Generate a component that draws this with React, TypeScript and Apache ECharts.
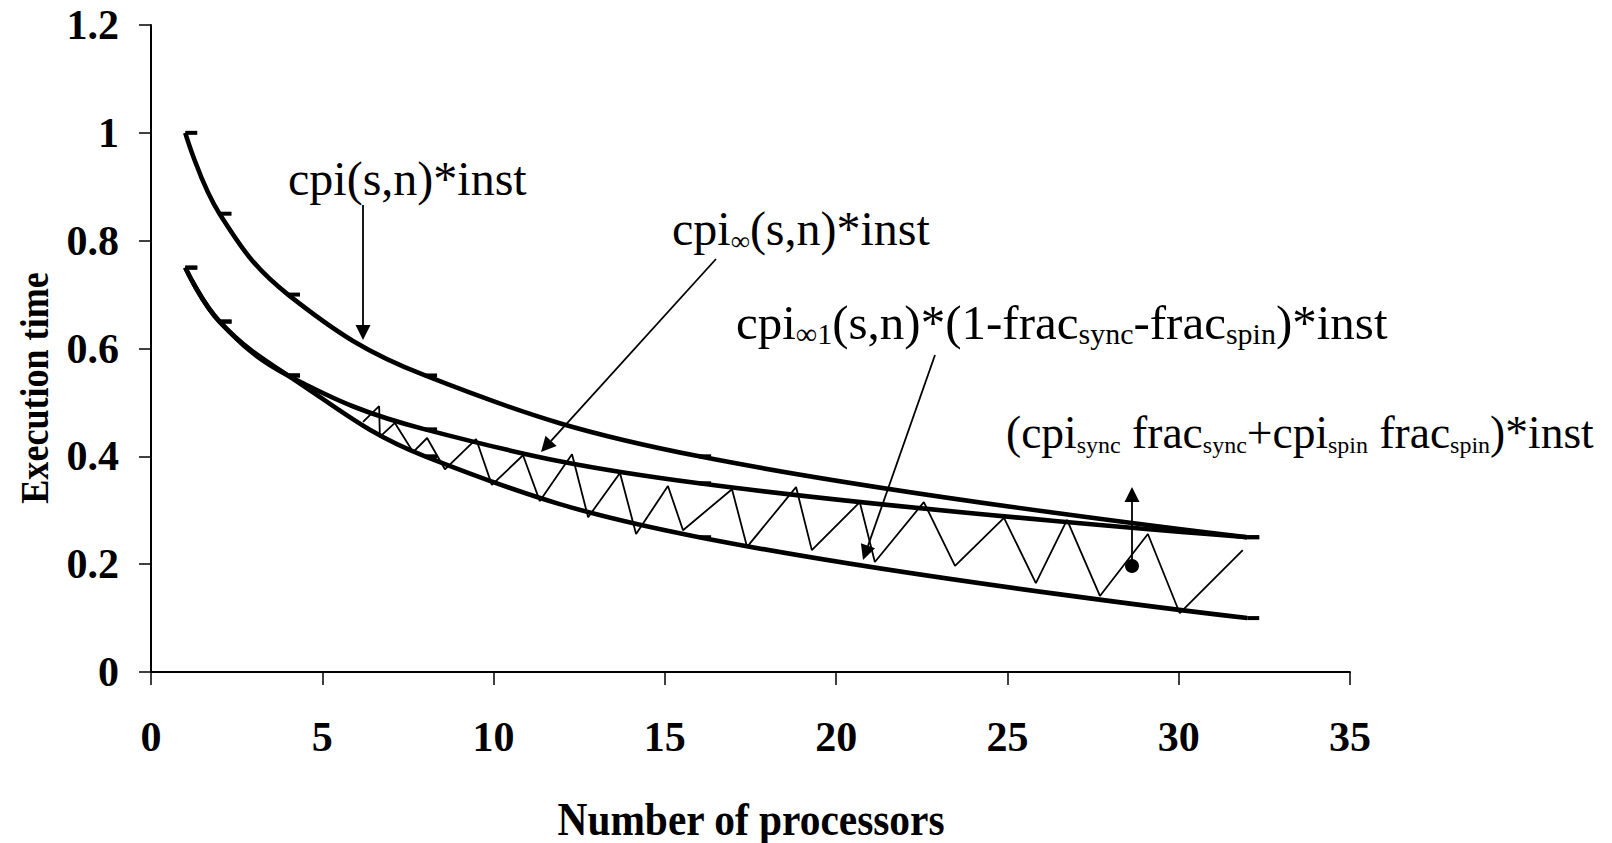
import React, { useEffect, useRef } from 'react';
import * as echarts from 'echarts';

// ---------- data ----------
const processors = [1, 2, 4, 8, 16, 32];
const cpiInst = [1.0, 0.85, 0.7, 0.55, 0.4, 0.25];
const cpiInfInst = [0.75, 0.65, 0.55, 0.45, 0.35, 0.25];
const cpiInf1Inst = [0.75, 0.65, 0.55, 0.4, 0.25, 0.1];

// sync + spin zig-zag band
const syncSpinX = [6.19, 6.66, 6.68, 7.12, 7.65, 8.06, 8.58, 9.49, 9.95, 10.86, 11.35, 12.29, 12.76, 13.69, 14.16, 15.09, 15.53, 16.96, 17.4, 18.83, 19.29, 20.69, 21.13, 22.56, 23.47, 24.9, 25.83, 26.74, 27.7, 29.1, 30.03, 31.87];
const syncSpinY = [0.464, 0.493, 0.436, 0.462, 0.408, 0.434, 0.376, 0.432, 0.347, 0.402, 0.317, 0.404, 0.287, 0.369, 0.256, 0.345, 0.263, 0.339, 0.232, 0.343, 0.226, 0.315, 0.204, 0.315, 0.197, 0.286, 0.165, 0.282, 0.141, 0.256, 0.109, 0.226];

const xMin = 0;
const xMax = 35;
const xStep = 5;
const yMin = 0;
const yMax = 1.2;
const yStep = 0.2;

const xTitle = 'Number of processors';
const yTitle = 'Execution time';

const SERIF = '"Liberation Serif", "Times New Roman", serif';

function arrow(x1: number, y1: number, x2: number, y2: number) {
  const len = Math.hypot(x2 - x1, y2 - y1);
  const ux = (x2 - x1) / len;
  const uy = (y2 - y1) / len;
  const headL = 15;
  const headW = 7.5;
  const bx = x2 - ux * headL;
  const by = y2 - uy * headL;
  const px = -uy;
  const py = ux;
  return [
    {
      type: 'line',
      shape: { x1, y1, x2: bx, y2: by },
      style: { stroke: '#000', lineWidth: 1.8 },
      z: 100,
    },
    {
      type: 'polygon',
      shape: {
        points: [
          [x2, y2],
          [bx + px * headW, by + py * headW],
          [bx - px * headW, by - py * headW],
        ],
      },
      style: { fill: '#000' },
      z: 100,
    },
  ];
}

function makeRich(main: number, sub: number) {
  return {
    m: { fontSize: main, lineHeight: main + 4, fontFamily: SERIF, fill: '#000' },
    s: {
      fontSize: sub,
      lineHeight: Math.round(sub * 0.78),
      verticalAlign: 'bottom',
      fontFamily: SERIF,
      fill: '#000',
    },
  };
}

function label(x: number, y: number, text: string, main: number, sub: number) {
  return {
    type: 'text',
    x,
    y,
    z: 100,
    style: {
      text,
      rich: makeRich(main, sub),
      fontFamily: SERIF,
      fontSize: main,
      fill: '#000',
      align: 'left',
      verticalAlign: 'middle',
    },
  };
}

export default function App() {
  const ref = useRef<HTMLDivElement>(null);

  useEffect(() => {
    document.body.style.margin = '0';
    const chart = echarts.init(ref.current!, null, { renderer: 'svg' });

    const curve = (name: string, vals: number[]) => ({
      name,
      type: 'line',
      data: processors.map((x, i) => [x, vals[i]]),
      smooth: 0.4,
      symbol: 'rect',
      symbolSize: [12, 4],
      symbolOffset: [6, 0],
      itemStyle: { color: '#000' },
      lineStyle: { color: '#000', width: 4.6 },
      z: 5,
    });

    const option = {
      animation: false,
      backgroundColor: '#fff',
      grid: { left: 151, right: 262, top: 25, bottom: 171, containLabel: false },
      xAxis: {
        type: 'value',
        min: xMin,
        max: xMax,
        interval: xStep,
        axisLine: { onZero: false, lineStyle: { color: '#000', width: 2 } },
        axisTick: { show: true, inside: false, length: 13, lineStyle: { color: '#000', width: 1.5 } },
        axisLabel: { fontFamily: SERIF, fontWeight: 'bold', fontSize: 42, color: '#000', margin: 44 },
        splitLine: { show: false },
      },
      yAxis: {
        type: 'value',
        min: yMin,
        max: yMax,
        interval: yStep,
        axisLine: { show: true, lineStyle: { color: '#000', width: 2 } },
        axisTick: { show: true, inside: false, length: 12, lineStyle: { color: '#000', width: 1.5 } },
        axisLabel: {
          fontFamily: SERIF,
          fontWeight: 'bold',
          fontSize: 42,
          color: '#000',
          margin: 32,
          formatter: (v: number) => String(Math.round(v * 10) / 10),
        },
        splitLine: { show: false },
      },
      series: [
        {
          name: 'sync+spin',
          type: 'line',
          data: syncSpinX.map((x, i) => [x, syncSpinY[i]]),
          showSymbol: false,
          symbol: 'none',
          lineStyle: { color: '#000', width: 1.8 },
          z: 3,
        },
        curve('cpi(s,n)*inst', cpiInst),
        curve('cpi_inf(s,n)*inst', cpiInfInst),
        curve('cpi_inf1(s,n)*(1-frac_sync-frac_spin)*inst', cpiInf1Inst),
      ],
      graphic: [
        {
          type: 'text',
          x: 34,
          y: 388,
          rotation: Math.PI / 2,
          scaleX: 0.88,
          style: {
            text: yTitle,
            fontFamily: SERIF,
            fontWeight: 'bold',
            fontSize: 41,
            fill: '#000',
            align: 'center',
            verticalAlign: 'middle',
          },
        },
        {
          type: 'text',
          x: 751,
          y: 819,
          scaleX: 0.9,
          style: {
            text: xTitle,
            fontFamily: SERIF,
            fontWeight: 'bold',
            fontSize: 46,
            fill: '#000',
            align: 'center',
            verticalAlign: 'middle',
          },
        },
        label(288, 178, '{m|cpi(s,n)*inst}', 48, 27),
        label(672, 228, '{m|cpi}{s|∞}{m|(s,n)*inst}', 48, 27),
        label(736, 322, '{m|cpi}{s|∞1}{m|(s,n)*(1-frac}{s|sync}{m|-frac}{s|spin}{m|)*inst}', 49, 30),
        label(1006, 432, '{m|(cpi}{s|sync}{m| frac}{s|sync}{m|+cpi}{s|spin}{m| frac}{s|spin}{m|)*inst}', 45.5, 24),
        ...arrow(363, 205, 363, 340),
        ...arrow(716, 259, 541, 452),
        ...arrow(935, 355, 863, 560),
        ...arrow(1132, 566, 1132, 487),
        {
          type: 'circle',
          shape: { cx: 1132, cy: 566, r: 7 },
          style: { fill: '#000' },
          z: 100,
        },
      ],
    };

    chart.setOption(option as any);
    return () => chart.dispose();
  }, []);

  return <div ref={ref} style={{ width: 1612, height: 843 }} />;
}
